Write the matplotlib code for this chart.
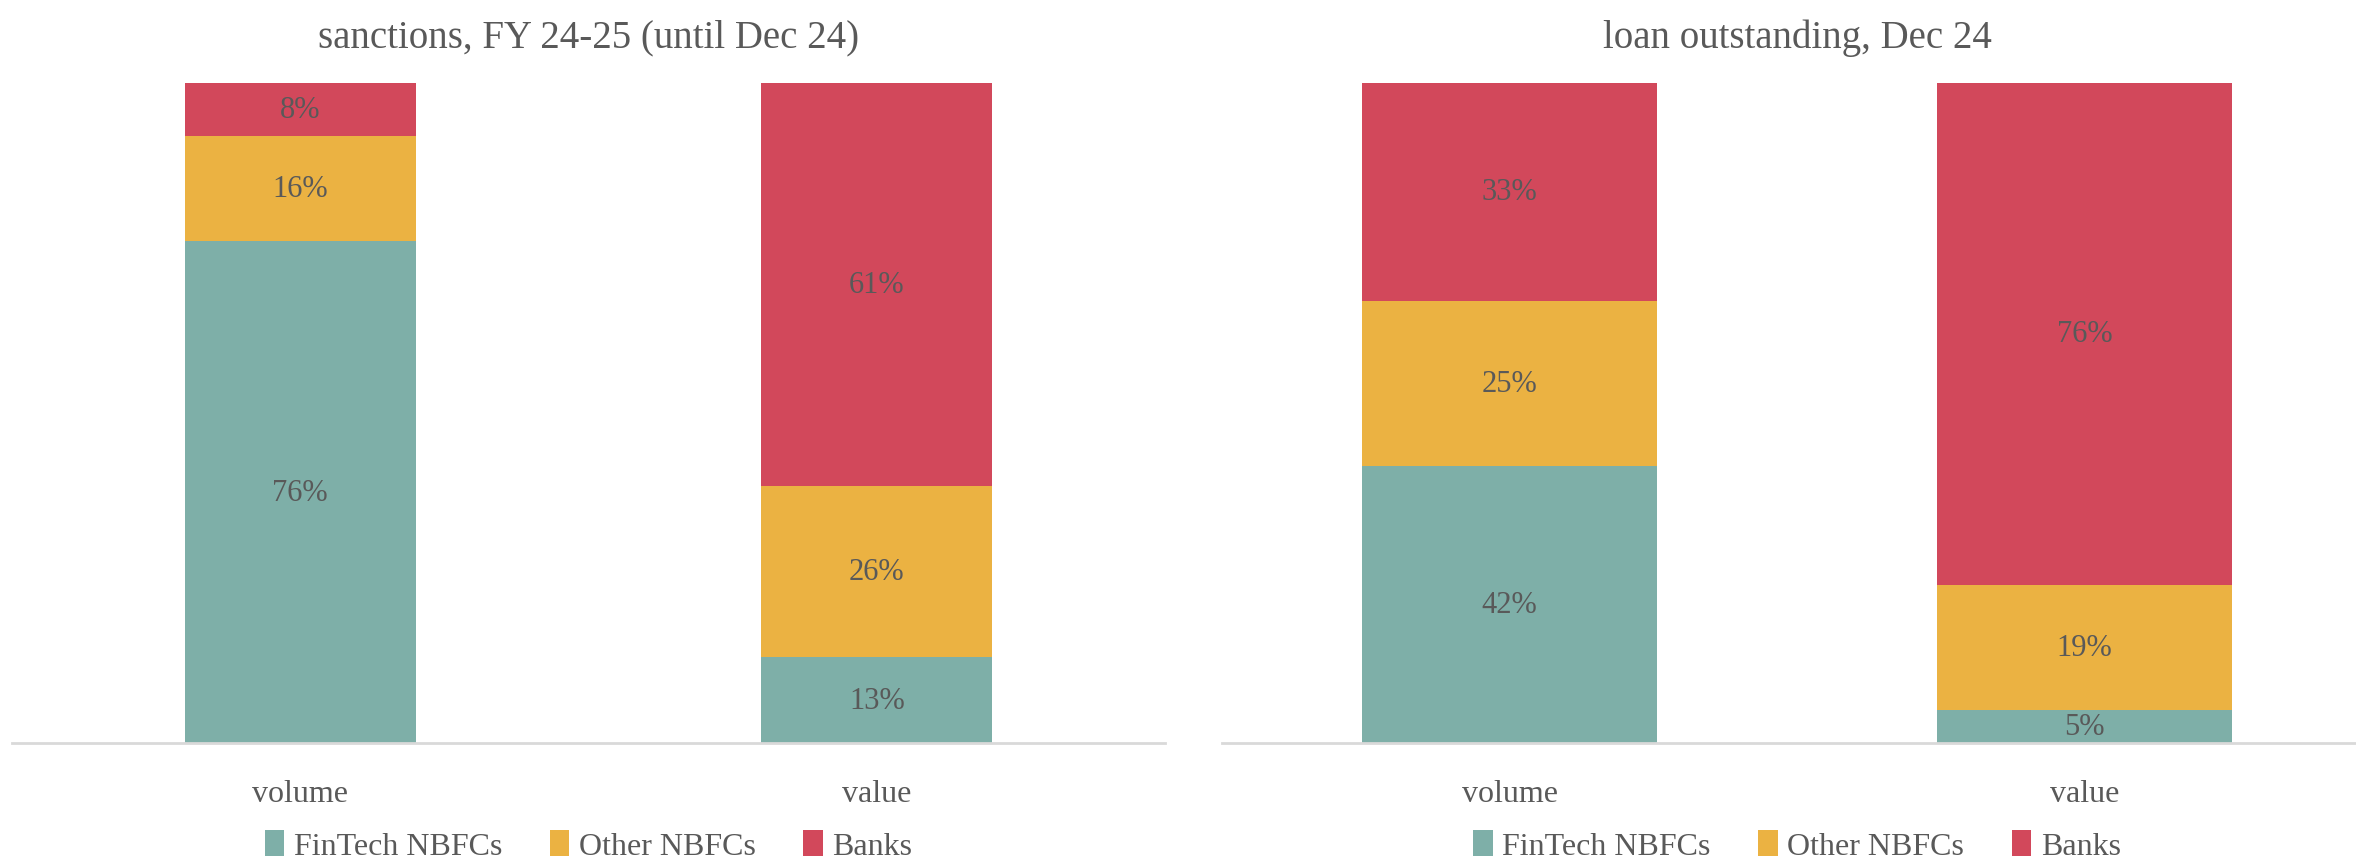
import numpy as np
import matplotlib
matplotlib.use("Agg")
import matplotlib.pyplot as plt

plt.rcParams["font.family"] = ["Liberation Serif", "DejaVu Serif"]

# data
categories = ["volume", "value"]
series = ["FinTech NBFCs", "Other NBFCs", "Banks"]
titles = ["sanctions, FY 24-25 (until Dec 24)", "loan outstanding, Dec 24"]
sanctions = {"FinTech NBFCs": [76, 13], "Other NBFCs": [16, 26], "Banks": [8, 61]}
outstanding = {"FinTech NBFCs": [42, 5], "Other NBFCs": [25, 19], "Banks": [33, 76]}

colors = {"FinTech NBFCs": "#7EAFA8", "Other NBFCs": "#EBB242", "Banks": "#D2485B"}
txt = "#595959"

fig = plt.figure(figsize=(23.56, 8.62), dpi=100)
ax1 = fig.add_axes([0.0051, 0.1369, 0.4894, 0.7657])
ax2 = fig.add_axes([0.5187, 0.1369, 0.4881, 0.7657])

for ax, data, title, width in [(ax1, sanctions, titles[0], 0.4), (ax2, outstanding, titles[1], 0.513)]:
    x = np.arange(len(categories))
    bottom = np.zeros(len(categories))
    for s in series:
        vals = np.array(data[s], dtype=float)
        ax.bar(x, vals, width, bottom=bottom, color=colors[s], label=s)
        for xi, b, v in zip(x, bottom, vals):
            ax.text(xi, b + v / 2, f"{int(v)}%", ha="center", va="center",
                    fontsize=22, color=txt)
        bottom += vals
    ax.set_xlim(-0.5, 1.5)
    ax.set_ylim(0, 100)
    ax.set_xticks(x)
    ax.set_xticklabels(categories, fontsize=23, color=txt)
    ax.tick_params(axis="x", length=0, pad=26)
    ax.set_yticks([])
    for sp in ["top", "left", "right"]:
        ax.spines[sp].set_visible(False)
    ax.spines["bottom"].set_color("#D9D9D9")
    ax.spines["bottom"].set_linewidth(2)
    ax.set_title(title, fontsize=28, color=txt, pad=26)
    pos = ax.get_position()
    ax.legend(loc="center", bbox_to_anchor=((pos.x0 + pos.x1) / 2, 0.018),
              bbox_transform=fig.transFigure, ncol=3, frameon=False,
              fontsize=23, labelcolor=txt, handlelength=0.6, handleheight=0.9,
              handletextpad=0.3, columnspacing=1.5)

fig.savefig("out.png", dpi=100)
